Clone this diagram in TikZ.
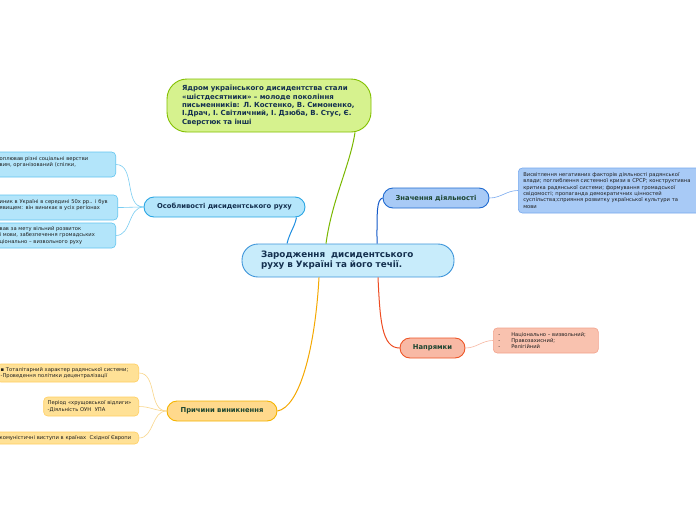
\documentclass[tikz,border=0pt]{standalone}
\usepackage{fontspec}
\setmainfont{DejaVu Sans}
\usepackage{xcolor}
\usetikzlibrary{shapes,arrows,calc}

\definecolor{navytext}{HTML}{14304F}
\definecolor{greentext}{HTML}{1B4430}
\definecolor{leaftext}{HTML}{1E1E1E}
\definecolor{rootfill}{HTML}{C8ECFB}
\definecolor{rootdraw}{HTML}{3E95DA}
\definecolor{limefill}{HTML}{D6F28E}
\definecolor{limedraw}{HTML}{82C000}
\definecolor{limeline}{HTML}{7AB800}
\definecolor{cyanfill}{HTML}{B5E6FB}
\definecolor{cyandraw}{HTML}{2AA6E4}
\definecolor{cyanline}{HTML}{1F8EE0}
\definecolor{cyanleaf}{HTML}{B3E5FA}
\definecolor{cyanleafdraw}{HTML}{62C5F0}
\definecolor{cyanthin}{HTML}{7ACDF2}
\definecolor{bluefill}{HTML}{A8CAF6}
\definecolor{bluedraw}{HTML}{1F6AD0}
\definecolor{blueline}{HTML}{1258C8}
\definecolor{blueleafdraw}{HTML}{76A8EE}
\definecolor{bluethin}{HTML}{7CACF0}
\definecolor{redfill}{HTML}{F8B9A5}
\definecolor{reddraw}{HTML}{EE5526}
\definecolor{redline}{HTML}{EE4C22}
\definecolor{redleaf}{HTML}{F9C2AF}
\definecolor{redleafdraw}{HTML}{F3A28C}
\definecolor{redthin}{HTML}{F7B8A2}
\definecolor{yellowfill}{HTML}{FFD98C}
\definecolor{yellowdraw}{HTML}{F5B400}
\definecolor{yellowline}{HTML}{F5A800}
\definecolor{yellowleaf}{HTML}{FFE196}
\definecolor{yellowleafdraw}{HTML}{FFCF62}
\definecolor{yellowthin}{HTML}{F9D68A}

\begin{document}
\begin{tikzpicture}[
    x=1pt, y=-1pt,
    root/.style={
      rectangle,
      draw=rootdraw,
      fill=rootfill,
      line width=0.9pt,
      rounded corners=16pt,
      text width=174pt,
      inner xsep=19pt,
      minimum height=33pt,
      align=left,
      text=navytext,
      font=\bfseries\fontsize{8.8}{10}\selectfont
    },
    topic/.style={
      rectangle,
      draw,
      line width=0.9pt,
      rounded corners=10pt,
      minimum height=20pt,
      inner xsep=6pt,
      font=\bfseries\fontsize{6.8}{8}\selectfont
    },
    leaf/.style={
      rectangle,
      draw,
      line width=0.6pt,
      rounded corners=4pt,
      align=left,
      inner xsep=4pt,
      inner ysep=2pt,
      text=leaftext,
      font=\fontsize{5.2}{6.3}\selectfont
    },
    branch/.style={draw, line width=1pt},
    twig/.style={draw, line width=0.6pt},
]
    \useasboundingbox (0,0) rectangle (696,520);
    \fill[white] (0,0) rectangle (696,520);
    \clip (0,0) rectangle (696,520);

    % centre
    \node [root] (root) at (348,260.5) {Зародження\ \ дисидентського\\ руху в Україні та його течії.};

    % top
    \node [rectangle, draw=limedraw, fill=limefill, line width=0.9pt, rounded corners=20pt,
           text width=174pt, inner xsep=15pt, minimum height=53pt, align=left, text=navytext,
           font=\bfseries\fontsize{7}{8.4}\selectfont] (sixties) at (269,105.5)
      {Ядром українського дисидентства стали\\ «шістдесятники» – молоде покоління\\ письменників: Л. Костенко, В. Симоненко,\\ І.Драч, І. Світличний, І. Дзюба, В. Стус, Є.\\ Сверстюк та інші};

    % topics
    \node [topic, draw=cyandraw, fill=cyanfill, minimum width=161pt, text=navytext] (features) at (224.5,207) {Особливості дисидентського руху};
    \node [topic, draw=bluedraw, fill=bluefill, minimum width=106pt, text=greentext] (meaning) at (436,198) {Значення діяльності};
    \node [topic, draw=reddraw, fill=redfill, minimum width=65pt, text=greentext] (trends) at (432.5,348) {Напрямки};
    \node [topic, draw=yellowdraw, fill=yellowfill, minimum width=110pt, text=greentext] (causes) at (222,411) {Причини виникнення};

    % leaves
    \node [leaf, draw=cyanleafdraw, fill=cyanleaf, anchor=east, text width=112pt, minimum height=25pt] (featA) at (116,164.5)
      {оплював різні соціальні верстви\\ вим, організований (спілки,\\ \mbox{}};
    \node [leaf, draw=cyanleafdraw, fill=cyanleaf, anchor=east, text width=114pt, minimum height=25pt] (featB) at (118,207.5)
      {иник в Україні в середині 50х рр.. і був\\ явищем: він виникає в усіх регіонах\\ \mbox{}};
    \node [leaf, draw=cyanleafdraw, fill=cyanleaf, anchor=east, text width=112pt, minimum height=25pt] (featC) at (116,235.5)
      {вав за мету вільний розвиток\\ і мови, забезпечення громадських\\ ціонально – визвольного руху};

    \node [leaf, draw=blueleafdraw, fill=bluefill, anchor=west, text width=184pt, inner xsep=5pt, minimum height=45pt] (meanA) at (518,190.5)
      {Висвітлення негативних факторів діяльності радянської\\ влади; поглиблення системної кризи в СРСР; конструктивна\\ критика радянської системи; формування громадської\\ свідомості; пропаганда демократичних цінностей\\ суспільства;сприяння розвитку української культури та\\ мови};

    \node [leaf, draw=redleafdraw, fill=redleaf, anchor=west, text width=95pt, inner xsep=5pt, minimum height=25pt] (trendA) at (493,340.5)
      {\makebox[13pt][l]{-}Національно – визвольний;\\ \makebox[13pt][l]{-}Правозахисний;\\ \makebox[13pt][l]{-}Релігійний};

    \node [leaf, draw=yellowleafdraw, fill=yellowleaf, anchor=east, text width=134pt, minimum height=18pt] (causeA) at (139,373)
      {▪ Тоталітарний характер радянської системи;\\ -Проведення політики децентралізації};
    \node [leaf, draw=yellowleafdraw, fill=yellowleaf, anchor=east, text width=87pt, minimum height=19pt] (causeB) at (139,406.5)
      {Період «хрущовської відлиги»\\ -Діяльність ОУН\ \ УПА};
    \node [leaf, draw=yellowleafdraw, fill=yellowleaf, anchor=east, text width=135pt, minimum height=12pt] (causeC) at (139,438)
      {комуністичні виступи в країнах\ \ Східної Європи};

    % branches
    \path [branch, limeline] ([xshift=-22pt]root.north) .. controls +(6,-44) and +(-5,33) .. ([xshift=86pt]sixties.south);
    \path [branch, cyanline] ([xshift=-61pt]root.north) .. controls +(3,-12) and +(-2,10) .. ([xshift=72pt]features.south);
    \path [branch, blueline] ([xshift=29pt]root.north) .. controls +(0,-32) and +(-6,2) .. (meaning.west);
    \path [branch, redline] ([xshift=30pt]root.south) .. controls +(2,42) and +(-18,0) .. (trends.west);
    \path [branch, yellowline] ([xshift=-29pt]root.south) .. controls +(-4,72) and +(22,-4) .. (causes.east);

    \path [twig, cyanthin] (features.west) to[out=180, in=0] (featA.east);
    \path [twig, cyanthin] (features.west) to[out=180, in=0] (featB.east);
    \path [twig, cyanthin] (features.west) to[out=180, in=0] (featC.east);
    \path [twig, bluethin] (meaning.east) to[out=0, in=180] (meanA.west);
    \path [twig, redthin] (trends.east) to[out=0, in=180] (trendA.west);
    \path [twig, yellowthin] (causes.west) to[out=180, in=0] (causeA.east);
    \path [twig, yellowthin] (causes.west) to[out=180, in=0] (causeB.east);
    \path [twig, yellowthin] (causes.west) to[out=180, in=0] (causeC.east);

\end{tikzpicture}
\end{document}
